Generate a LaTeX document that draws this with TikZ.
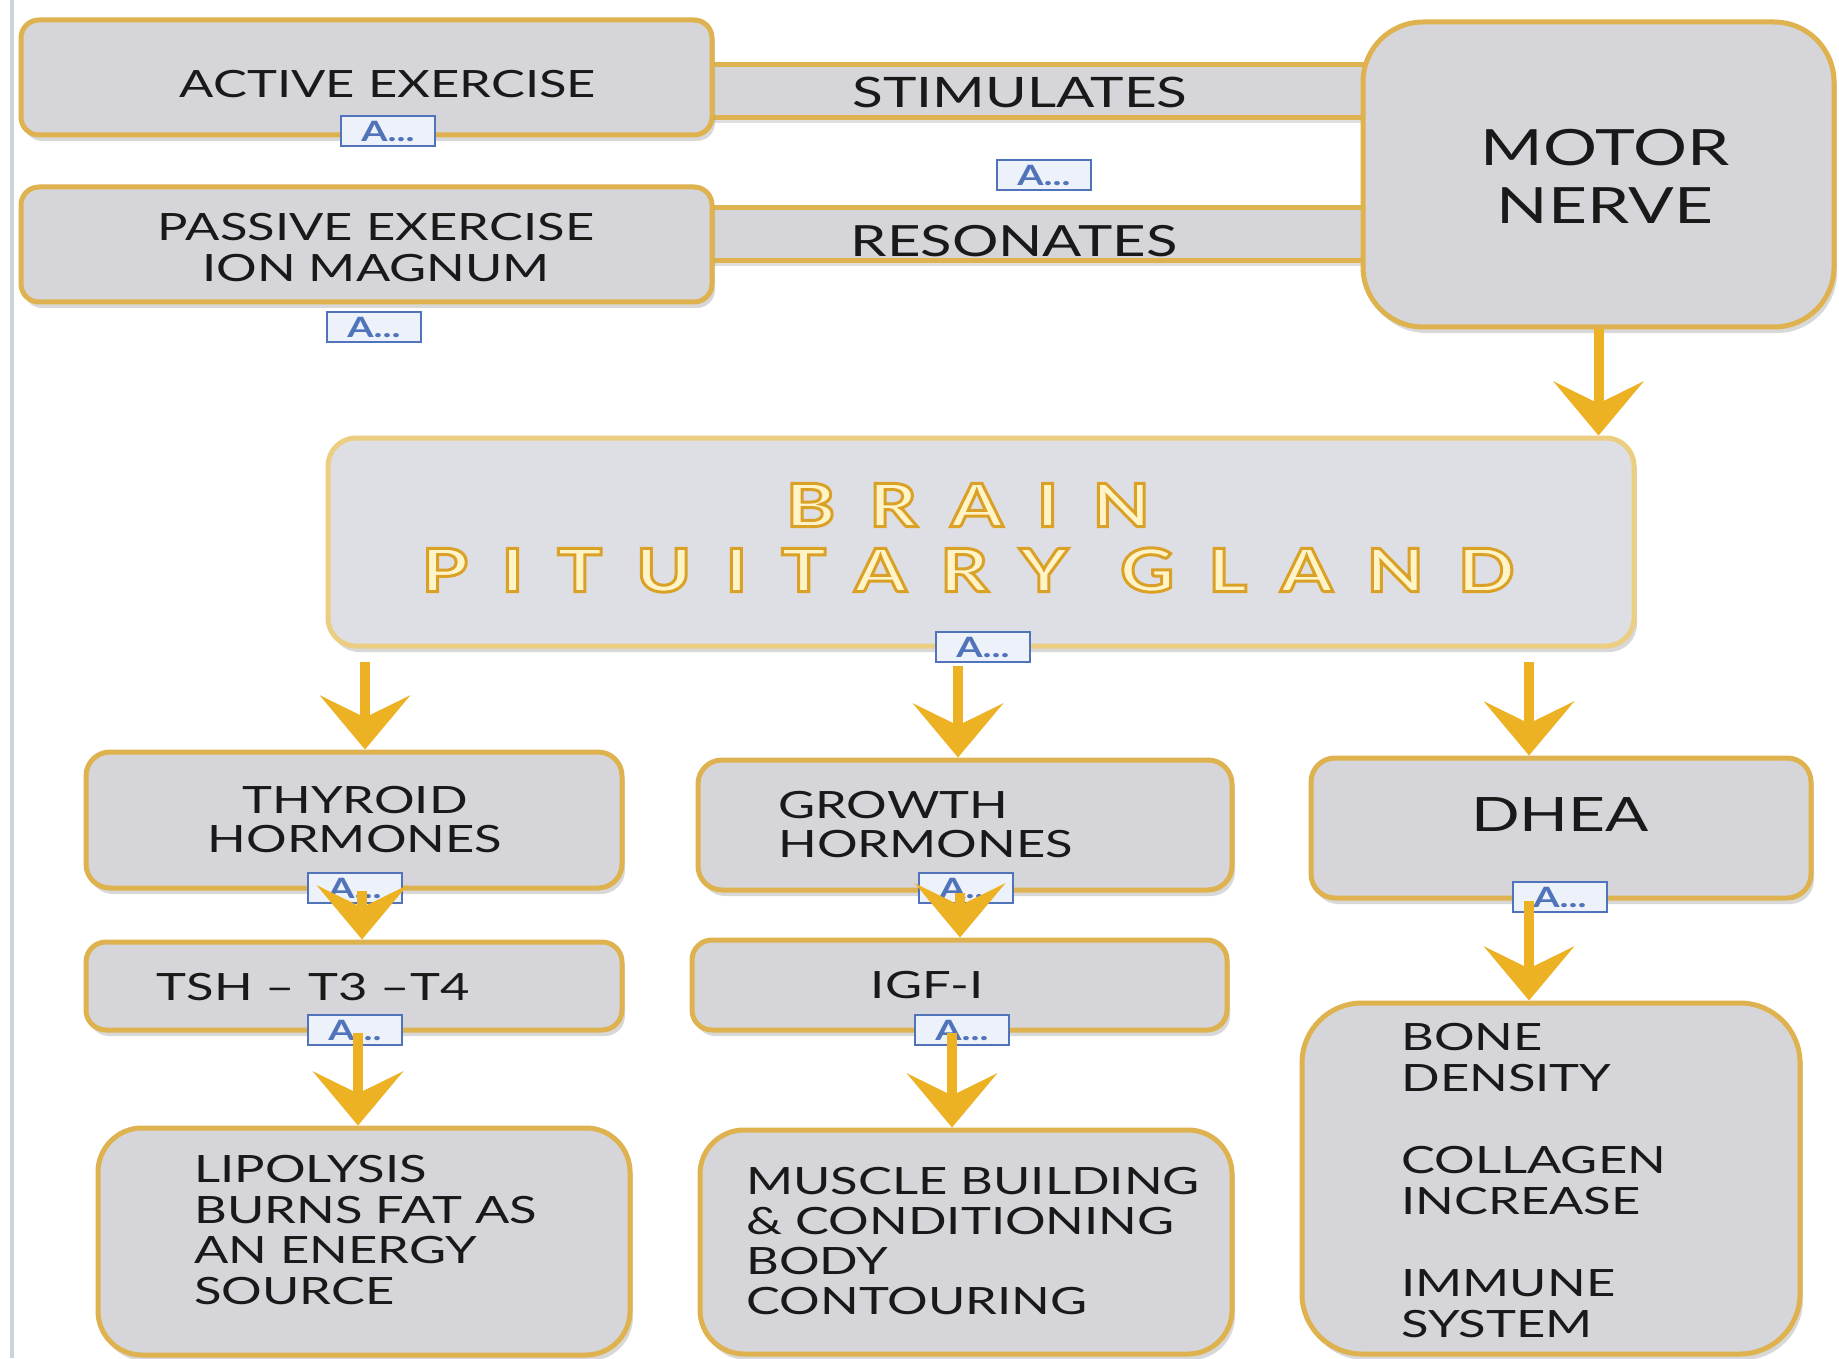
\documentclass[tikz,border=0pt]{standalone}
\usepackage{fontspec}
\setmainfont{Lato}[FakeStretch=1.35]
\newfontfamily\brainfont{Lato}[LetterSpace=56, FakeStretch=1.25, FakeBold=5]
\usetikzlibrary{shadows,arrows.meta}
\definecolor{boxgray}{RGB}{214,214,218}
\definecolor{brainfill}{RGB}{222,223,229}
\definecolor{goldline}{RGB}{222,178,78}
\definecolor{goldlight}{RGB}{236,206,130}
\definecolor{arrowgold}{RGB}{236,178,36}
\definecolor{iconblue}{RGB}{80,115,185}
\definecolor{iconfill}{RGB}{236,241,250}
\definecolor{txt}{RGB}{25,25,25}
\definecolor{creamtxt}{RGB}{255,244,200}
\definecolor{sideline}{RGB}{200,212,224}
\newcommand{\goldstroke}{\special{pdf:code 0.86 0.63 0.15 RG}}
\begin{document}
\begin{tikzpicture}[x=0.5pt,y=-0.5pt,
  box/.style={draw=goldline, line width=2.5pt, fill=boxgray, rounded corners=#1,
    drop shadow={shadow xshift=1.5pt, shadow yshift=-3pt, opacity=0.3}, inner sep=0pt},
  box/.default=10pt,
  bar/.style={fill=boxgray, draw=none, inner sep=0pt,
    drop shadow={shadow xshift=1pt, shadow yshift=-3pt, opacity=0.25}},
  baredge/.style={draw=goldline, line width=2.5pt},
  lbl/.style={text=txt, font=\fontsize{18.8}{20.5}\selectfont, inner sep=0pt, align=center},
  lblL/.style={lbl, align=left, anchor=west},
  icon/.style={draw=iconblue, line width=0.9pt, fill=iconfill, minimum width=47pt,
    minimum height=15pt, inner sep=0pt, text=iconblue, font=\bfseries\fontsize{14}{14}\selectfont},
  arr/.style={draw=arrowgold, line width=5pt, -{Stealth[length=27pt,width=45pt,inset=11pt]}},
  braintext/.style={inner sep=0pt, text=creamtxt, font=\brainfont\bfseries\fontsize{30}{30}\selectfont}
]
\useasboundingbox (0,0) rectangle (1839,1358);
\fill[white] (0,0) rectangle (1839,1358);
\draw[sideline, line width=2pt] (12,0) -- (12,1358);

% connecting bars
\node[bar, minimum width=337.5pt, minimum height=26pt] (stim) at (1037.5,91) {};
\draw[baredge] (stim.north west) -- (stim.north east);
\draw[baredge] (stim.south west) -- (stim.south east);
\node[bar, minimum width=337.5pt, minimum height=26pt] (res) at (1037.5,234) {};
\draw[baredge] (res.north west) -- (res.north east);
\draw[baredge] (res.south west) -- (res.south east);

% boxes
\node[box=9pt, minimum width=345.5pt, minimum height=57.5pt] (act) at (366.5,77.5) {};
\node[box=9pt, minimum width=345.5pt, minimum height=57.5pt] (pas) at (366.5,244.5) {};
\node[box=30pt, minimum width=235.5pt, minimum height=152.5pt] (mot) at (1598.5,174.5) {};
\node[box=14pt, fill=brainfill, draw=goldlight, minimum width=653pt, minimum height=104pt] (brain) at (981,542) {};
\node[box=12pt, minimum width=268pt, minimum height=68pt] (thy) at (354,820) {};
\node[box=12pt, minimum width=267pt, minimum height=65pt] (gro) at (965,825) {};
\node[box=12pt, minimum width=250pt, minimum height=70pt] (dhea) at (1561,828) {};
\node[box=10pt, minimum width=268pt, minimum height=44pt] (tsh) at (354,986) {};
\node[box=10pt, minimum width=267.5pt, minimum height=45pt] (igf) at (959.5,985) {};
\node[box=22pt, minimum width=266pt, minimum height=113.5pt] (lipo) at (364,1241.5) {};
\node[box=22pt, minimum width=266pt, minimum height=112pt] (mus) at (966,1242) {};
\node[box=30pt, minimum width=249pt, minimum height=175.5pt] (bone) at (1551,1178.5) {};

% texts
\node[lbl] (actT) at (388,84) {ACTIVE EXERCISE};
\node[lbl] (pasT) at (376,247.5) {PASSIVE EXERCISE\\ION MAGNUM};
\node[lbl, font=\fontsize{21}{21}\selectfont] (stimT) at (1020,92) {STIMULATES};
\node[lbl, font=\fontsize{21.5}{21.5}\selectfont] (resT) at (1014,241) {RESONATES};
\node[lbl, font=\fontsize{25}{29}\selectfont] (motT) at (1605,176) {MOTOR\\NERVE};
\node[braintext] (brainT1) at (968,505) {\goldstroke BRAIN};
\node[braintext] (brainT2) at (968,570) {\goldstroke PITUITARY GLAND};
\node[lbl, font=\fontsize{18.8}{19.5}\selectfont] (thyT) at (355,820) {THYROID\\HORMONES};
\node[lblL, font=\fontsize{18.8}{19.5}\selectfont] (groT) at (778,825) {GROWTH\\HORMONES};
\node[lbl, font=\fontsize{23.7}{24}\selectfont] (dheaT) at (1560,815) {DHEA};
\node[lbl] (tshT) at (313,987) {TSH -- T3 --T4};
\node[lbl] (igfT) at (927,985) {IGF-I};
\node[lblL, font=\fontsize{18.8}{20.25}\selectfont] (lipoT) at (194,1230) {LIPOLYSIS\\BURNS FAT AS\\AN ENERGY\\SOURCE};
\node[lblL, font=\fontsize{18.8}{20}\selectfont] (musT) at (746,1241) {MUSCLE BUILDING\\\& CONDITIONING\\BODY\\CONTOURING};
\node[lblL, font=\fontsize{18.8}{20.5}\selectfont] (boneT) at (1401,1180.5) {BONE\\DENSITY\\[20.5pt]COLLAGEN\\INCREASE\\[20.5pt]IMMUNE\\SYSTEM};

% placeholder icons
\node[icon] (i1) at (388,131) {A...};
\node[icon] (i2) at (374,327) {A...};
\node[icon] (i3) at (1044,175) {A...};
\node[icon] (i4) at (983,647) {A...};
\node[icon] (i5) at (355,888) {A...};
\node[icon] (i6) at (966,888) {A...};
\node[icon] (i7) at (1560,897) {A...};
\node[icon] (i8) at (355,1030) {A...};
\node[icon] (i9) at (962,1030) {A...};

% arrows
\draw[arr] (mot.south) -- (mot.south |- brain.north);
\draw[arr] ([xshift=5.5pt,yshift=-6.5pt]brain.south -| thy.north) -- ([xshift=5.5pt]thy.north);
\draw[arr] ([xshift=-3.5pt,yshift=-8.5pt]brain.south -| gro.north) -- ([xshift=-3.5pt]gro.north);
\draw[arr] ([xshift=-16pt,yshift=-6.5pt]brain.south -| dhea.north) -- ([xshift=-16pt]dhea.north);
\draw[arr] ([xshift=4pt]thy.south) -- ([xshift=4pt]tsh.north);
\draw[arr] ([xshift=-2.5pt]gro.south) -- ([xshift=-2.5pt]gro.south |- igf.north);
\draw[arr] ([xshift=-16pt]dhea.south) -- ([xshift=-16pt]dhea.south |- bone.north);
\draw[arr] ([xshift=2pt]tsh.south) -- ([xshift=2pt]tsh.south |- lipo.north);
\draw[arr] ([xshift=-3.75pt]igf.south) -- ([xshift=-3.75pt]igf.south |- mus.north);
\end{tikzpicture}
\end{document}
